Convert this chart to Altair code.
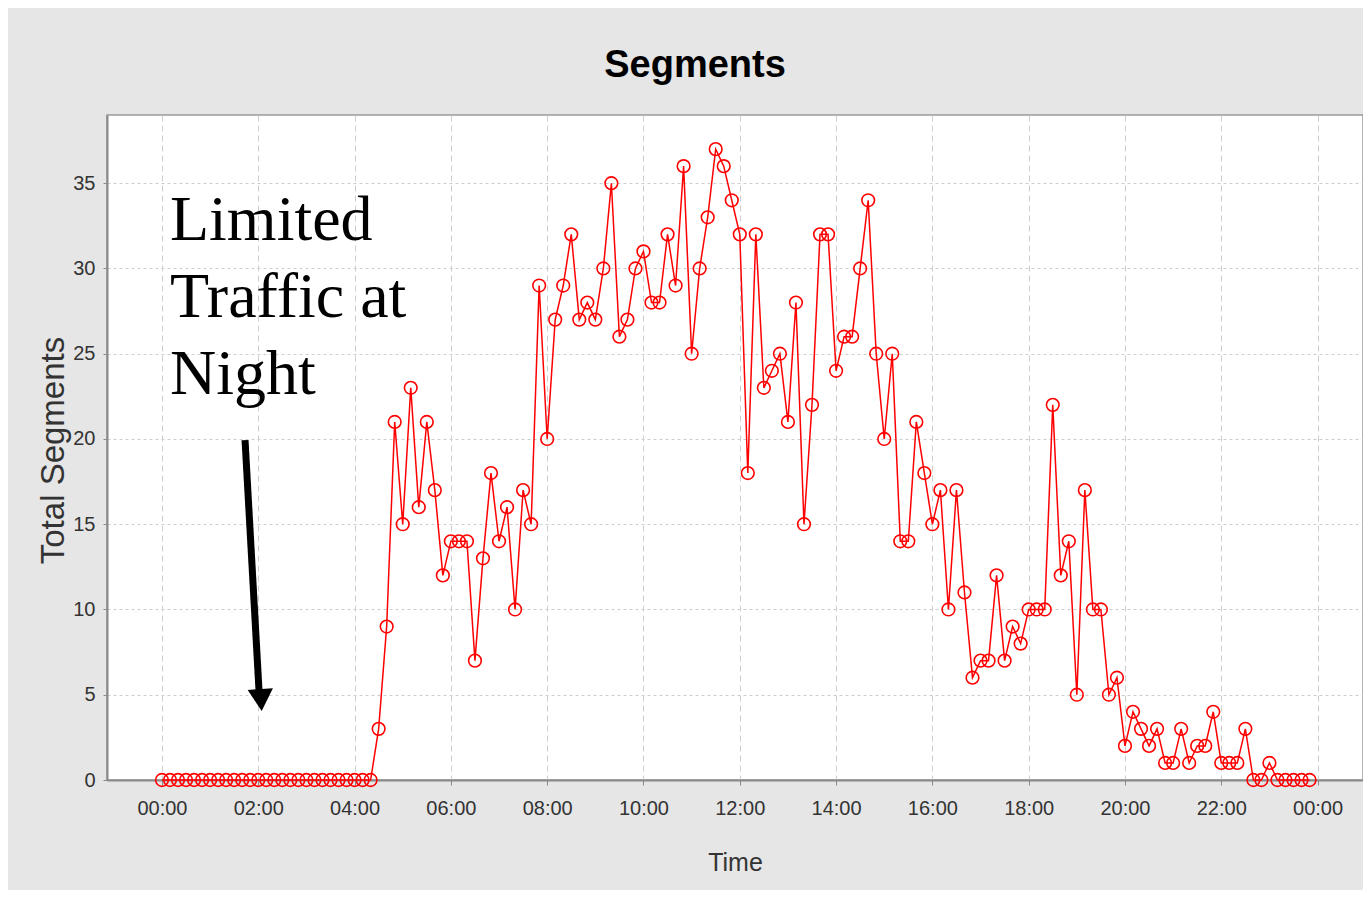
import altair as alt
import pandas as pd

# 10-minute slots from 00:00 to 23:50 (minutes after midnight)
minutes = list(range(0, 1440, 10))

segments = [
    0, 0, 0, 0, 0, 0, 0, 0, 0, 0, 0, 0, 0, 0, 0, 0, 0, 0, 0, 0, 0, 0, 0, 0, 0, 0, 0,
    3, 9, 21, 15, 23, 16, 21, 17, 12, 14, 14, 14, 7, 13, 18, 14, 16, 10, 17, 15,
    29, 20, 27, 29, 32, 27, 28, 27, 30, 35, 26, 27, 30, 31, 28, 28, 32, 29, 36, 25,
    30, 33, 37, 36, 34, 32, 18, 32, 23, 24, 25, 21, 28, 15, 22, 32, 32, 24, 26, 26,
    30, 34, 25, 20, 25, 14, 14, 21, 18, 15, 17, 10, 17, 11, 6, 7, 7, 12, 7, 9, 8,
    10, 10, 10, 22, 12, 14, 5, 17, 10, 10, 5, 6, 2, 4, 3, 2, 3, 1, 1, 3, 1, 2, 2,
    4, 1, 1, 1, 3, 0, 0, 1, 0, 0, 0, 0, 0,
]

x_tick_values = [0, 120, 240, 360, 480, 600, 720, 840, 960, 1080, 1200, 1320, 1440]
y_tick_values = [0, 5, 10, 15, 20, 25, 30, 35]

annotation_lines = ["Limited", "Traffic at", "Night"]
annotation_pos = {"minute": 10, "segments": 31.65}
arrow_shaft = {"minute": 103.5, "segments": 19.93, "minute2": 120.9, "segments2": 5.28}
arrow_head = {"minute": 123.4, "segments": 4.69}

df = pd.DataFrame({"minute": minutes, "segments": segments})

SANS = "Liberation Sans, Arial, sans-serif"

x_scale = alt.Scale(domain=[-68.5, 1496.6], nice=False, zero=False)
y_scale = alt.Scale(domain=[0, 39], nice=False, zero=False)

label_expr = ("(floor(datum.value/60)%24 < 10 ? '0' : '') + "
              "(floor(datum.value/60)%24) + ':00'")

x_axis = alt.Axis(
    values=x_tick_values, labelExpr=label_expr, title="Time",
    grid=True, gridDash=[6, 4], gridColor="#cdcdcd", gridWidth=1,
    domainColor="#8a8a8a", domainWidth=2, tickColor="#8a8a8a", tickSize=5,
    labelFont=SANS, labelFontSize=20, labelColor="#333333", labelPadding=13,
    titleFont=SANS, titleFontSize=25, titleFontWeight="normal",
    titleColor="#333333", titleY=82, titleBaseline="middle",
)
y_axis = alt.Axis(
    values=y_tick_values, title="Total Segments",
    grid=True, gridDash=[3, 3], gridColor="#cdcdcd", gridWidth=1,
    domainColor="#8a8a8a", domainWidth=2, tickColor="#8a8a8a", tickSize=4,
    labelFont=SANS, labelFontSize=20, labelColor="#333333", labelPadding=8,
    titleFont=SANS, titleFontSize=33,
    titleFontWeight="normal", titleColor="#333333",
    titleX=-54, titleY=335, titleAngle=270, titleBaseline="middle",
    titleAlign="center",
)

base = alt.Chart(df).encode(
    x=alt.X("minute:Q", scale=x_scale, axis=x_axis),
    y=alt.Y("segments:Q", scale=y_scale, axis=y_axis),
)

line = base.mark_line(color="#ff0000", strokeWidth=1.5)
points = base.mark_point(shape="circle", filled=False, color="#ff0000",
                         size=160, strokeWidth=1.6, opacity=1)

ann_df = pd.DataFrame([{"minute": annotation_pos["minute"],
                        "segments": annotation_pos["segments"],
                        "label": annotation_lines}])
annotation = alt.Chart(ann_df).mark_text(
    font="Liberation Serif, Times New Roman, serif", fontSize=64,
    color="black", align="left", baseline="alphabetic", lineHeight=77,
).encode(
    x=alt.X("minute:Q", scale=x_scale),
    y=alt.Y("segments:Q", scale=y_scale),
    text="label",
)

shaft = alt.Chart(pd.DataFrame([arrow_shaft])).mark_rule(
    color="black", strokeWidth=7, strokeCap="butt"
).encode(
    x=alt.X("minute:Q", scale=x_scale),
    y=alt.Y("segments:Q", scale=y_scale),
    x2="minute2:Q",
    y2="segments2:Q",
)

head = alt.Chart(pd.DataFrame([arrow_head])).mark_point(
    shape="triangle-down", filled=True, color="black", opacity=1,
    size=640, angle=356.4, strokeWidth=0,
).encode(
    x=alt.X("minute:Q", scale=x_scale),
    y=alt.Y("segments:Q", scale=y_scale),
)

chart = alt.layer(line, points, annotation, shaft, head).properties(
    width=1256,
    height=665,
    padding={"left": 99, "top": 107, "right": 0, "bottom": 110},
    autosize=alt.AutoSizeParams(type="none"),
    background="#e6e6e6",
    title=alt.TitleParams(
        text="Segments", font=SANS, fontSize=38, fontWeight="bold",
        color="black", anchor="middle", frame="group", dx=-40, offset=35,
        dy=35, baseline="alphabetic",
    ),
).configure_view(
    stroke="#9a9a9a", strokeWidth=1.5, fill="white"
)

chart.save("out.html", embed_options={"renderer": "svg", "actions": False})
